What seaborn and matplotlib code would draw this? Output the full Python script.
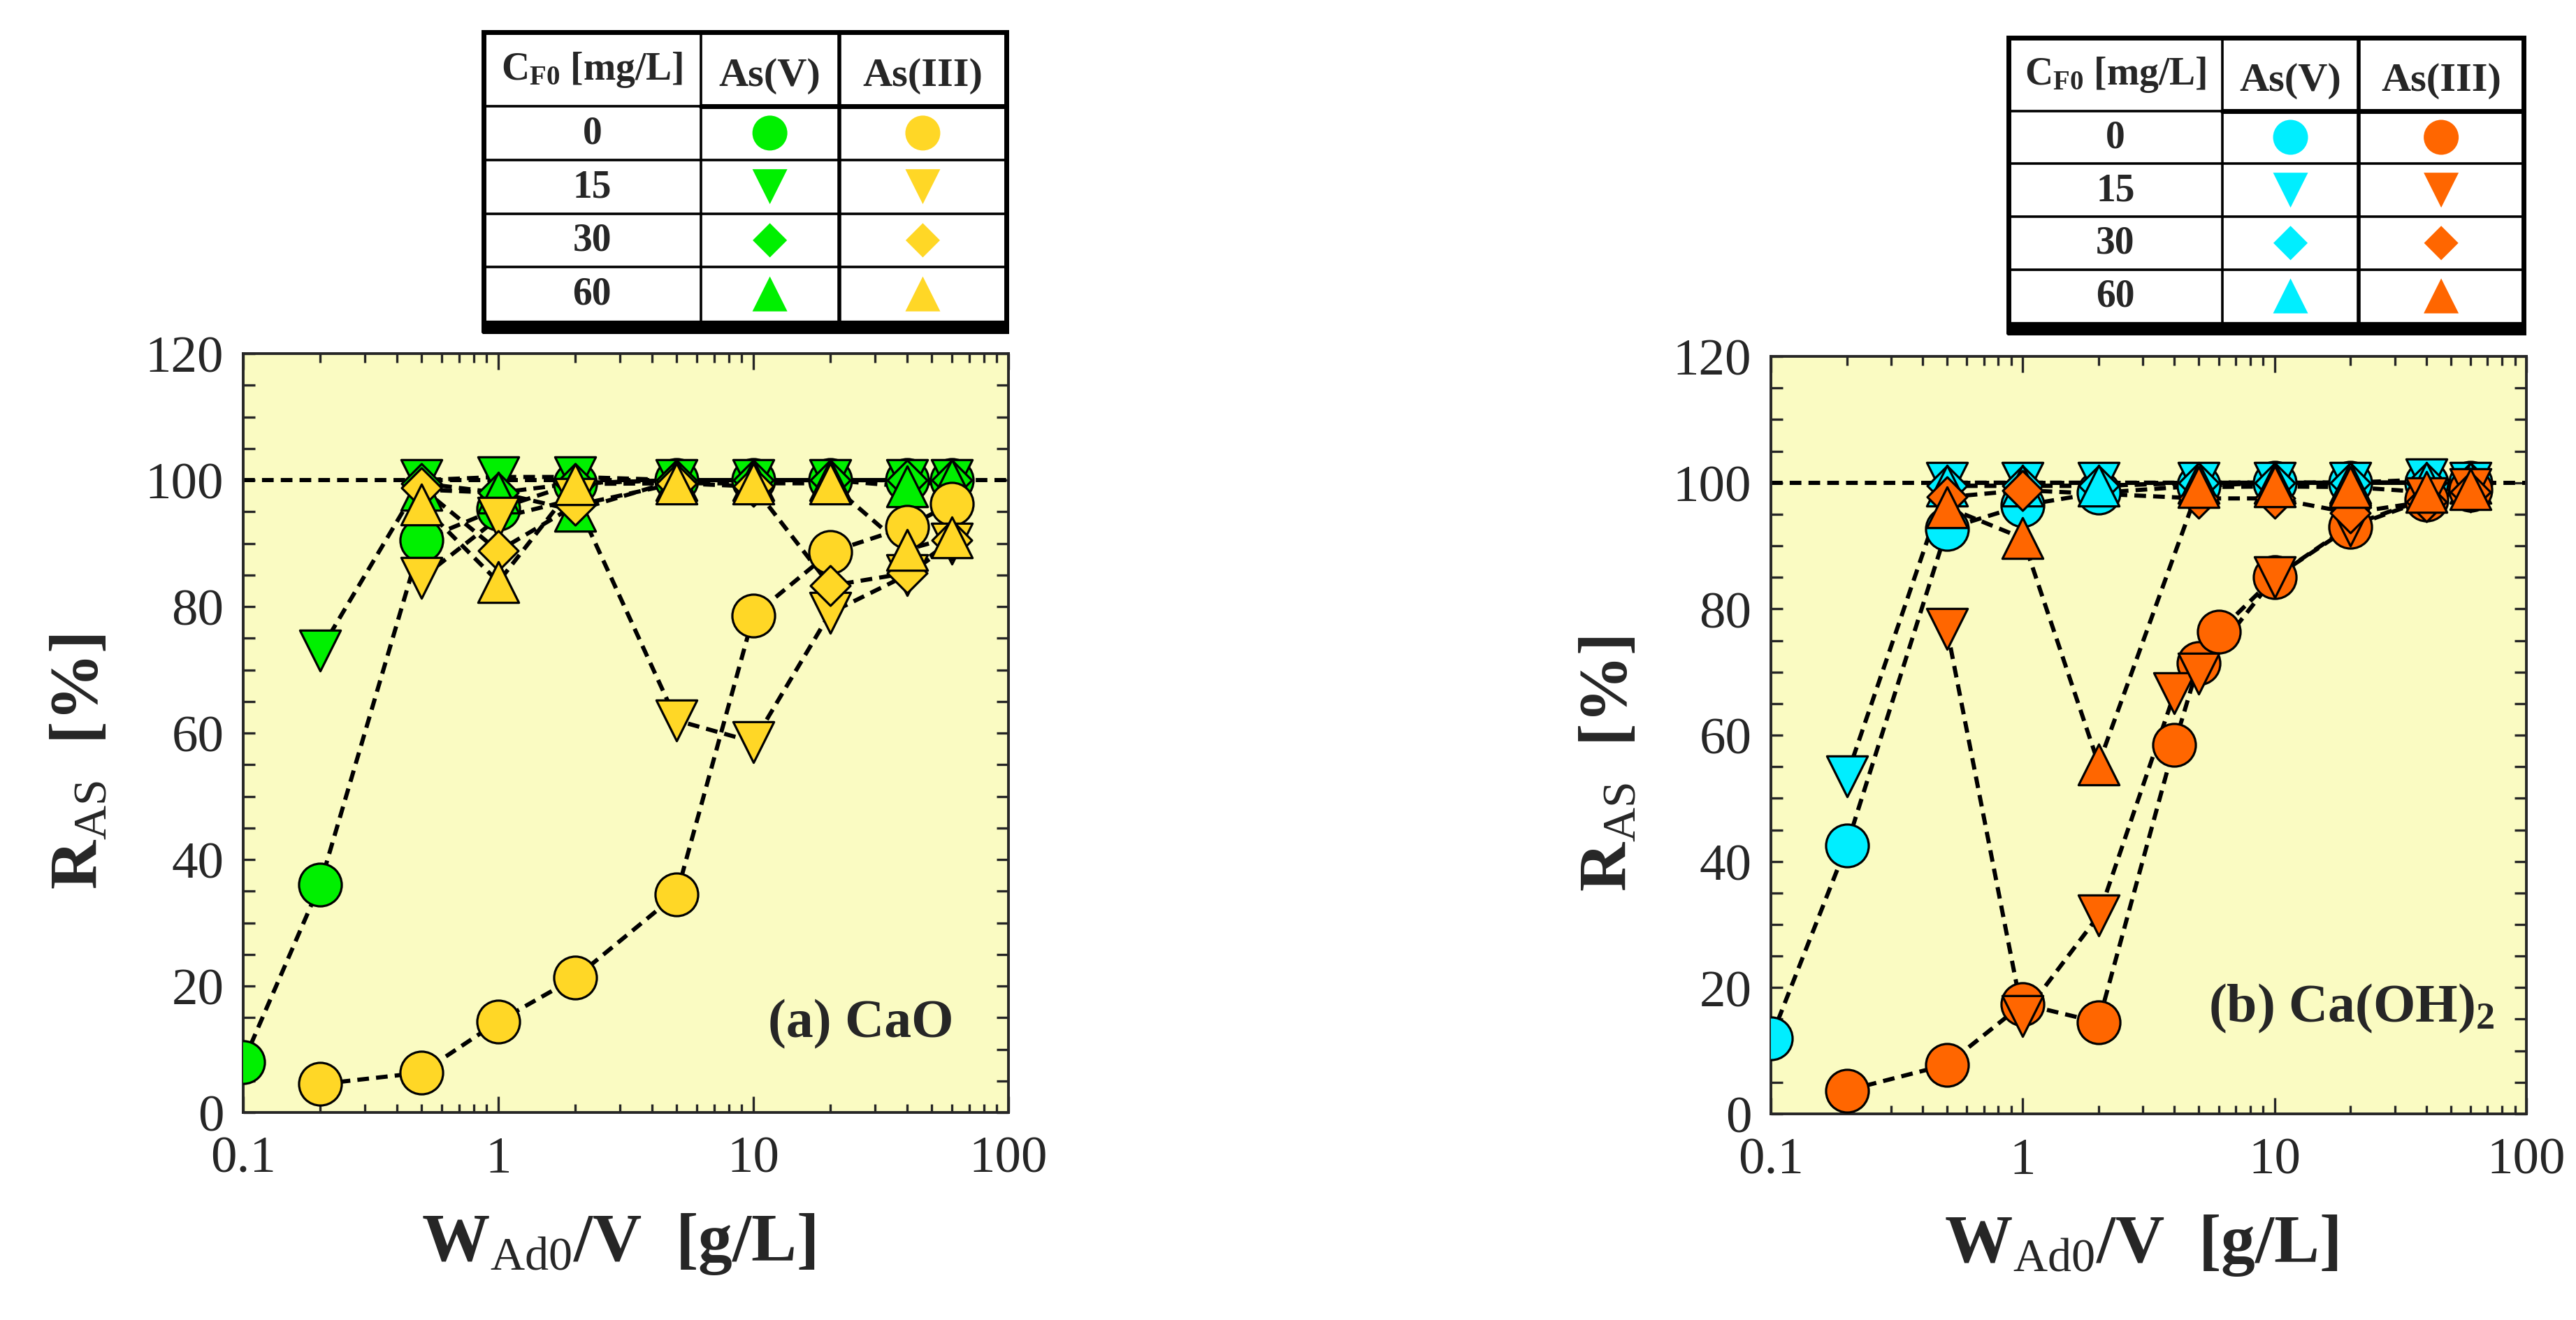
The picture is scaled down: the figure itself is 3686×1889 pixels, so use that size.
import matplotlib
matplotlib.use("Agg")
import matplotlib.pyplot as plt
import pandas as pd
import seaborn as sns
from matplotlib.ticker import FixedLocator, FixedFormatter, LogLocator, NullFormatter, MultipleLocator

# ---- values ----
# (a) CaO, As(V)
cao_v0_x = [0.1, 0.2, 0.5, 1, 2, 5, 10, 20, 40, 60]
cao_v0_y = [8, 36, 90.5, 95.5, 99.5, 100, 100, 100, 100, 100]
cao_v15_x = [0.2, 0.5, 1, 2, 5, 10, 20, 40, 60]
cao_v15_y = [73, 100, 100.5, 100.5, 100, 100, 100, 100, 100]
cao_v30_x = [0.5, 1, 2, 5, 10, 20, 40, 60]
cao_v30_y = [99.5, 98, 99.5, 100, 100, 100, 100, 100]
cao_v60_x = [0.5, 1, 2, 5, 10, 20, 40, 60]
cao_v60_y = [98.5, 98, 95.2, 100, 100, 100, 99, 100]
# (a) CaO, As(III)
cao_iii0_x = [0.2, 0.5, 1, 2, 5, 10, 20, 40, 60]
cao_iii0_y = [4.5, 6.3, 14.4, 21.3, 34.5, 78.6, 88.6, 92.6, 96.3]
cao_iii15_x = [0.5, 1, 2, 5, 10, 20, 40, 60]
cao_iii15_y = [84.5, 94, 97, 62, 58.6, 79, 85, 90]
cao_iii30_x = [0.5, 1, 2, 5, 10, 20, 40, 60]
cao_iii30_y = [98.8, 88.8, 96, 99.5, 99, 83.3, 85.3, 90.5]
cao_iii60_x = [0.5, 1, 2, 5, 10, 20, 40, 60]
cao_iii60_y = [96.1, 83.9, 99.4, 99.5, 99.5, 99.5, 89, 91]

# (b) Ca(OH)2, As(V)
coh_v0_x = [0.1, 0.2, 0.5, 1, 2, 5, 10, 20, 40, 60]
coh_v0_y = [12, 42.5, 92.7, 96.4, 98.4, 99.5, 100, 100, 100, 100]
coh_v15_x = [0.2, 0.5, 1, 2, 5, 10, 20, 40, 60]
coh_v15_y = [53.5, 100, 100, 100, 100, 100, 100, 100.5, 100]
coh_v30_x = [0.5, 1, 2, 5, 10, 20, 40, 60]
coh_v30_y = [99.5, 99.5, 99.5, 100, 100, 100, 100, 100]
coh_v60_x = [0.5, 1, 2, 5, 10, 20, 40, 60]
coh_v60_y = [99.5, 99.5, 99.5, 100, 100, 100, 100, 100]
# (b) Ca(OH)2, As(III)
coh_iii0_x = [0.2, 0.5, 1, 2, 4, 5, 6, 10, 20, 40, 60]
coh_iii0_y = [3.7, 7.8, 17.4, 14.5, 58.5, 71.4, 76.4, 85, 93, 97.3, 98.9]
coh_iii15_x = [0.5, 1, 2, 4, 5, 10, 20, 40, 60]
coh_iii15_y = [76.8, 15.5, 31.4, 66.6, 69.7, 85, 93.2, 97.5, 99]
coh_iii30_x = [0.5, 1, 5, 10, 20, 40, 60]
coh_iii30_y = [97.7, 98.8, 97.5, 97.5, 95.2, 97, 98.5]
coh_iii60_x = [0.5, 1, 2, 5, 10, 20, 40, 60]
coh_iii60_y = [96.1, 91.2, 55.4, 99.3, 99.4, 99.3, 98.5, 99]

conc_labels = ["0", "15", "30", "60"]
conc_markers = ["o", "v", "D", "^"]
x_ticks = [0.1, 1, 10, 100]
x_ticklabels = ["0.1", "1", "10", "100"]

GREEN = "#00F000"
YELLOW = "#FFD726"
CYAN = "#00EEFF"
ORANGE = "#FF6600"
BG = "#FAFBC2"

sns.set_style("ticks")
plt.rcParams["font.family"] = ["Liberation Serif", "DejaVu Serif"]
plt.rcParams["mathtext.fontset"] = "custom"
plt.rcParams["mathtext.rm"] = "Liberation Serif"
plt.rcParams["mathtext.bf"] = "Liberation Serif:bold"
plt.rcParams["mathtext.it"] = "Liberation Serif:italic"

MSIZE = {"o": 44 ** 2, "v": 42 ** 2, "^": 42 ** 2, "D": 29 ** 2}
TSIZE = {"o": 36 ** 2, "v": 36 ** 2, "^": 36 ** 2, "D": 25 ** 2}
LW = 4.3
DASH = (0, (2.8, 1.7))


def draw_panel(ax, series, panel_text, text_xy):
    ax.set_facecolor(BG)
    ax.set_xscale("log")
    ax.axhline(100, color="black", linewidth=LW, linestyle=DASH, zorder=1)
    for x, y, m, c in series:
        sns.lineplot(x=x, y=y, ax=ax, color="black", linewidth=LW, linestyle=DASH,
                     estimator=None, sort=False, zorder=2, legend=False)
    for x, y, m, c in series:
        sns.scatterplot(x=x, y=y, ax=ax, marker=m, s=MSIZE[m], color=c,
                        edgecolor="black", linewidth=2.3, zorder=3, legend=False)
    ax.set_xlim(0.1, 100)
    ax.set_ylim(0, 120)
    ax.xaxis.set_major_locator(FixedLocator(x_ticks))
    ax.xaxis.set_major_formatter(FixedFormatter(x_ticklabels))
    ax.xaxis.set_minor_locator(LogLocator(base=10, subs=range(2, 10)))
    ax.xaxis.set_minor_formatter(NullFormatter())
    ax.yaxis.set_major_locator(MultipleLocator(20))
    ax.yaxis.set_minor_locator(MultipleLocator(5))
    ax.tick_params(which="both", direction="in", top=True, right=True,
                   width=2.4, labelsize=54)
    ax.tick_params(axis="x", which="major", length=16.5, pad=24)
    ax.tick_params(axis="x", which="minor", length=9)
    ax.tick_params(axis="y", which="both", length=12, pad=20)
    for sp in ax.spines.values():
        sp.set_linewidth(2.8)
        sp.set_visible(True)
    ax.set_xlabel(r"W$_{\mathrm{Ad0}}$/V  [g/L]", fontsize=70, fontweight="bold")
    ax.set_ylabel(r"R$_{\mathrm{AS}}$  [%]", fontsize=70, fontweight="bold")
    ax.xaxis.set_label_coords(0.49, -0.13)
    ax.yaxis.set_label_coords(-0.172, 0.463)
    ax.xaxis.label.set_va("top")
    ax.text(text_xy[0], text_xy[1], panel_text, transform=ax.transAxes,
            ha="right", va="baseline", fontsize=56, fontweight="bold")


def draw_table(fig, rect, col_v, col_iii):
    tax = fig.add_axes(rect)
    tax.set_xlim(0, 1)
    tax.set_ylim(0, 1)
    tax.axis("off")
    c1, c2 = 0.415, 0.68
    band = 0.035
    head = 0.752
    row_h = (head - band) / 4
    for k in range(1, 4):
        tax.plot([0, 1], [band + k * row_h] * 2, color="black", lw=2.6, clip_on=False)
    tax.plot([0, c1], [head, head], color="black", lw=2.6, clip_on=False)
    tax.plot([c1, 1], [head, head], color="black", lw=5, clip_on=False)
    tax.plot([c1, c1], [0, 1], color="black", lw=2.6, clip_on=False)
    tax.plot([c2, c2], [0, 1], color="black", lw=4, clip_on=False)
    tax.plot([0, 1, 1, 0, 0], [0, 0, 1, 1, 0], color="black", lw=5,
             clip_on=False, solid_joinstyle="miter")
    tax.fill_between([0, 1], 0, band, color="black", clip_on=False)
    yh = (1 + head) / 2
    tax.text(c1 / 2, yh, r"C$_{\mathbf{F0}}$ [mg/L]", ha="center", va="center",
             fontsize=40, fontweight="bold")
    tax.text((c1 + c2) / 2, yh - 0.02, "As(V)", ha="center", va="center",
             fontsize=42, fontweight="bold")
    tax.text((c2 + 1) / 2, yh - 0.02, "As(III)", ha="center", va="center",
             fontsize=42, fontweight="bold")
    for i, (lab, m) in enumerate(zip(conc_labels, conc_markers)):
        yc = head - (i + 0.5) * row_h
        tax.text(c1 / 2, yc, lab, ha="center", va="center", fontsize=40,
                 fontweight="bold")
        cells = pd.DataFrame({"x": [(c1 + c2) / 2, (c2 + 1) / 2], "y": [yc, yc]})
        sns.scatterplot(data=cells, x="x", y="y", ax=tax, marker=m, s=TSIZE[m],
                        hue=[0, 1], palette=[col_v, col_iii], linewidth=0,
                        legend=False, clip_on=False)
    tax.set_xlim(0, 1)
    tax.set_ylim(0, 1)
    tax.set_xlabel("")
    tax.set_ylabel("")


fig = plt.figure(figsize=(36.87, 18.9), dpi=100)

ax_a = fig.add_axes([0.0944, 0.1571, 0.297, 0.5746])
draw_panel(ax_a, [
    (cao_v0_x, cao_v0_y, "o", GREEN),
    (cao_v15_x, cao_v15_y, "v", GREEN),
    (cao_v30_x, cao_v30_y, "D", GREEN),
    (cao_v60_x, cao_v60_y, "^", GREEN),
    (cao_iii0_x, cao_iii0_y, "o", YELLOW),
    (cao_iii15_x, cao_iii15_y, "v", YELLOW),
    (cao_iii30_x, cao_iii30_y, "D", YELLOW),
    (cao_iii60_x, cao_iii60_y, "^", YELLOW),
], "(a) CaO", (0.928, 0.1))

ax_b = fig.add_axes([0.6873, 0.1561, 0.2932, 0.5735])
draw_panel(ax_b, [
    (coh_v0_x, coh_v0_y, "o", CYAN),
    (coh_v15_x, coh_v15_y, "v", CYAN),
    (coh_v30_x, coh_v30_y, "D", CYAN),
    (coh_v60_x, coh_v60_y, "^", CYAN),
    (coh_iii0_x, coh_iii0_y, "o", ORANGE),
    (coh_iii15_x, coh_iii15_y, "v", ORANGE),
    (coh_iii30_x, coh_iii30_y, "D", ORANGE),
    (coh_iii60_x, coh_iii60_y, "^", ORANGE),
], r"(b) Ca(OH)$_{\mathbf{2}}$", (0.958, 0.122))

draw_table(fig, [0.1877, 0.7487, 0.2029, 0.2265], GREEN, YELLOW)
draw_table(fig, [0.7795, 0.7476, 0.1999, 0.2233], CYAN, ORANGE)

fig.savefig("out.png", dpi=100, facecolor="white")
